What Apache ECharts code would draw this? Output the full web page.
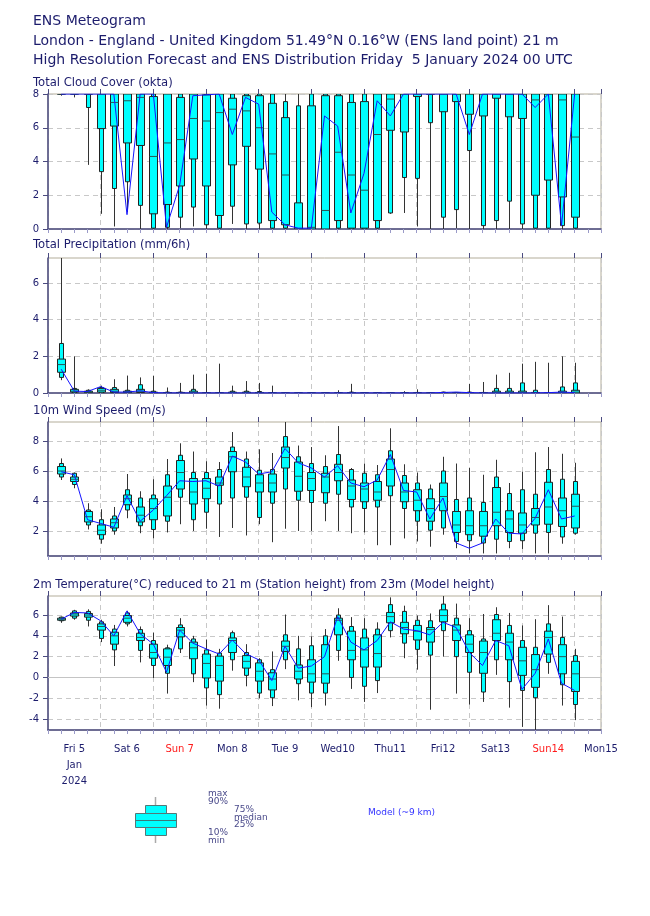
<!DOCTYPE html>
<html><head><meta charset="utf-8">
<script src="https://cdn.jsdelivr.net/npm/echarts@6/dist/echarts.min.js"></script>
<style>html,body{margin:0;padding:0;background:#fff}#c{width:650px;height:916px}</style>
</head><body><div id="c"></div>
<script>
// forecast steps (hours after Fri 5 Jan 2024 00 UTC)
const hours = [6,12,18,24,30,36,42,48,54,60,66,72,78,84,90,96,102,108,114,120,
               126,132,138,144,150,156,162,168,174,180,186,192,198,204,210,216,222,228,234,240];
const dayLabelHours = [12,36,60,84,108,132,156,180,204,228,252];
const dayLabels = ['Fri 5\nJan\n2024','Sat 6','Sun 7','Mon 8','Tue 9','Wed10','Thu11','Fri12','Sat13','Sun14','Mon15'];
const sundayLabels = ['Sun 7','Sun14'];

// [min, p10, p25, median, p75, p90, max]
const cloudBoxes = [
 [7.9,8,8,8,8,8,8],[7.8,8,8,8,8,8,8],[3.8,7.2,8,8,8,8,8],[0.9,3.4,5.95,8,8,8,8],
 [0.15,2.4,6.1,7.5,8,8,8],[1.0,2.8,5.1,7.6,8,8,8],[0,1.4,4.95,7.8,8,8,8],[0,0.05,0.9,4.3,7.85,8,8],
 [0,0.1,1.45,5.1,8,8,8],[0.05,0.7,2.55,5.3,7.8,8,8],[0.15,1.3,4.15,6.55,8,8,8],[0,0.25,2.55,6.4,7.95,8,8],
 [0,0.05,0.8,6.9,8,8,8],[0.3,1.35,3.8,7.1,7.75,8,8],[0,0.3,4.9,7.0,7.9,8,8],[0,0.35,3.55,6.0,7.9,8,8],
 [0,0.05,0.5,4.45,7.45,8,8],[0,0.05,0.25,3.2,6.6,7.55,8],[0,0,0,0,1.55,7.3,8],[0,0,0,0.1,7.3,8,8],
 [0,0,0,1.1,7.9,8,8],[0,0.05,0.5,4.55,7.9,8,8],[0,0,0.05,3.2,7.5,8,8],[0,0,0.05,2.3,7.55,8,8],
 [0,0.05,0.5,5.6,8,8,8],[0.9,0.95,5.85,7.7,8,8,8],[0.95,3.05,5.75,8,8,8,8],[0.15,3.0,7.85,8,8,8,8],
 [0,6.3,8,8,8,8,8],[0,0.7,6.95,8,8,8,8],[0.05,1.15,7.55,8,8,8,8],[0,4.65,6.8,8,8,8,8],
 [0,0.2,6.7,8,8,8,8],[0,0.5,7.75,8,8,8,8],[0,1.65,6.65,8,8,8,8],[0,0.3,6.55,8,8,8,8],
 [0,0.05,2.0,7.65,8,8,8],[0,0.05,2.9,8,8,8,8],[0,0.2,1.9,7.65,8,8,8],[0,0.05,0.7,5.45,8,8,8]
];
const cloudHres = [8,8,8,8,8,0.85,8,8,0.1,2.6,7.9,7.95,8,5.6,7.8,7.4,1.0,0.25,0.05,0.05,
                   6.7,6.1,0.95,3.3,7.6,6.7,8,8,8,8,8,5.6,8,8,8,8,7.2,8,0.2,8];

const precipBoxes = [
 [0.7,0.85,1.13,1.55,1.85,2.7,8.5],[0,0,0.05,0.1,0.2,0.25,2.0],[0,0,0.02,0.05,0.1,0.15,0.2],[0,0,0.05,0.15,0.25,0.3,0.4],
 [0,0,0.02,0.1,0.2,0.3,0.75],[0,0,0.02,0.05,0.1,0.15,0.95],[0,0,0.03,0.1,0.2,0.45,0.85],[0,0,0,0.02,0.05,0.1,0.93],
 [0,0,0,0,0.02,0.05,0.3],[0,0,0,0,0.03,0.05,0.55],[0,0,0,0.02,0.1,0.2,1.0],[0,0,0,0,0,0.02,1.05],
 [0,0,0,0,0,0.02,1.6],[0,0,0,0.02,0.05,0.1,0.4],[0,0,0,0.02,0.05,0.1,0.65],[0,0,0,0.01,0.03,0.08,0.55],
 [0,0,0,0,0,0.02,0.4],[0,0,0,0,0,0,0.02],[0,0,0,0,0,0,0],[0,0,0,0,0,0,0],
 [0,0,0,0,0,0,0],[0,0,0,0,0,0.02,0.15],[0,0,0,0,0.02,0.05,0.5],[0,0,0,0,0,0,0.02],
 [0,0,0,0,0,0,0.02],[0,0,0,0,0,0.01,0.05],[0,0,0,0,0,0.02,0.1],[0,0,0,0,0,0.03,0.2],
 [0,0,0,0,0,0.01,0.03],[0,0,0,0,0.02,0.05,0.07],[0,0,0,0,0.01,0.03,0.05],[0,0,0,0,0.02,0.05,0.5],
 [0,0,0,0,0.01,0.03,0.6],[0,0,0,0.02,0.1,0.25,1.0],[0,0,0,0.02,0.1,0.25,1.1],[0,0,0,0.02,0.1,0.55,1.6],
 [0,0,0,0,0.03,0.15,1.7],[0,0,0,0,0,0.02,1.65],[0,0,0,0.02,0.1,0.33,2.0],[0,0,0,0.05,0.15,0.55,1.65]
];
const precipHres = [1.3,0.1,0.08,0.35,0.05,0.05,0.12,0.02,0,0,0,0,0,0,0,0,0,0,0,0,
                    0,0,0,0,0,0,0,0,0,0.03,0.05,0.02,0,0,0,0,0,0.02,0.05,0.02];

const windBoxes = [
 [5.4,5.6,5.8,6.0,6.3,6.5,6.84],[4.85,5.1,5.3,5.45,5.6,5.85,5.9],[2.1,2.4,2.6,2.95,3.3,3.4,3.85],[1.15,1.45,1.75,2.05,2.4,2.75,3.45],
 [1.75,2.0,2.2,2.55,2.8,3.0,3.6],[2.85,3.4,3.75,4.15,4.4,4.75,5.8],[1.85,2.35,2.6,3.05,3.6,4.2,4.65],[1.5,2.1,2.75,3.5,4.15,4.4,5.45],
 [1.9,2.65,3.0,4.25,5.0,5.75,6.8],[2.45,4.25,4.8,5.9,6.7,7.05,7.85],[2.0,2.75,3.8,4.6,5.5,5.9,7.3],[2.15,3.25,4.15,4.85,5.5,5.9,6.65],
 [1.6,3.8,5.05,5.2,5.6,6.1,6.6],[2.2,4.2,5.95,6.95,7.3,7.6,8.6],[1.7,4.25,4.95,5.6,6.25,6.8,7.3],[2.45,2.9,4.6,5.2,5.75,6.05,7.45],
 [1.25,3.85,4.6,5.2,5.8,6.1,7.2],[2.15,4.8,6.2,6.9,7.6,8.3,9.4],[2.0,4.05,4.65,5.65,6.6,6.95,7.7],[2.0,3.9,4.7,5.5,5.9,6.5,7.6],
 [2.65,3.85,4.55,5.6,5.85,6.3,7.05],[2.0,4.45,5.35,5.9,6.45,7.1,9.0],[1.85,3.6,4.1,5.0,5.4,6.1,6.2],[1.9,3.5,3.95,4.8,5.2,5.85,6.5],
 [1.05,3.6,4.05,4.6,5.3,5.75,6.4],[1.05,4.35,5.0,6.1,6.8,7.35,8.85],[1.5,3.5,3.95,4.6,5.2,5.7,6.45],[1.3,2.65,3.35,4.05,4.75,5.2,5.9],
 [0.95,2.05,2.65,3.5,4.15,4.8,5.1],[1.75,2.2,3.35,4.3,5.2,6.0,6.95],[0.85,1.3,1.9,2.4,3.3,4.1,6.5],[0.5,1.35,1.75,2.35,3.35,4.2,6.2],
 [0.5,1.2,1.65,2.35,3.3,3.9,5.75],[0.5,1.45,2.35,3.25,4.9,5.6,6.75],[0.85,1.3,1.9,2.8,3.35,4.5,5.2],[0.8,1.35,1.85,2.4,3.2,4.75,5.95],
 [0.5,1.85,2.4,2.9,3.5,4.45,7.25],[0.5,1.9,2.45,3.6,5.25,6.1,7.6],[1.15,1.6,2.3,3.35,4.2,5.45,7.15],[1.75,1.85,2.2,3.65,4.45,5.3,6.55]
];
const windHres = [5.95,5.75,2.75,2.5,2.25,4.35,2.65,3.4,4.35,5.35,5.3,5.35,5.0,7.0,6.6,5.8,5.95,7.5,6.55,6.2,
                  5.6,6.35,5.2,4.95,5.4,7.1,4.7,4.6,2.8,4.2,1.2,0.85,1.2,2.8,1.85,1.8,2.85,4.75,2.8,3.0];

const tempBoxes = [
 [5.25,5.45,5.5,5.6,5.7,5.8,5.85],[5.55,5.7,5.9,6.1,6.2,6.4,6.5],[4.9,5.5,5.8,6.0,6.15,6.35,6.55],[3.4,3.75,4.55,4.9,5.15,5.35,5.55],
 [1.1,2.65,3.2,4.0,4.35,4.65,5.05],[4.9,5.15,5.3,5.7,5.95,6.2,6.4],[1.45,2.6,3.55,3.85,4.25,4.6,4.9],[-0.05,1.15,1.85,2.4,3.2,3.55,4.3],
 [-1.55,0.4,1.15,1.95,2.75,2.85,3.15],[2.35,2.75,3.9,4.55,4.8,5.05,5.7],[-0.45,0.35,1.8,2.85,3.4,3.7,4.0],[-2.7,-1.0,-0.05,1.35,2.25,2.65,3.65],
 [-3.0,-1.65,-0.35,1.15,2.05,2.35,2.75],[0.65,1.7,2.4,3.55,3.8,4.3,4.5],[-0.85,0.2,0.9,1.55,2.1,2.4,3.2],[-2.0,-1.5,-0.35,0.6,1.4,1.7,1.85],
 [-2.75,-1.95,-1.2,-0.15,0.45,0.75,2.5],[0.8,1.7,2.5,3.0,3.5,4.1,6.05],[-2.2,-0.6,-0.15,0.6,1.2,2.75,4.0],[-2.85,-1.5,-0.45,0.35,1.7,3.05,3.95],
 [-2.7,-1.5,-0.55,0.35,3.15,4.0,4.65],[1.6,2.6,4.1,5.5,5.7,6.0,6.65],[-1.1,0.0,1.7,2.6,4.45,4.9,5.8],[-2.35,-0.85,1.0,2.65,3.8,4.65,5.7],
 [-1.5,-0.3,1.0,2.3,4.1,4.65,5.3],[3.85,4.5,5.25,5.85,6.25,7.0,7.7],[1.85,3.3,4.2,4.8,5.3,6.35,6.9],[0.75,2.7,3.6,4.45,5.0,5.5,5.95],
 [-3.1,2.15,3.4,4.6,4.8,5.45,6.15],[2.0,4.5,5.35,5.95,6.5,7.05,7.85],[-1.55,2.0,3.55,4.55,5.05,5.7,7.1],[-2.6,0.5,2.4,3.2,4.1,4.5,5.7],
 [-2.35,-1.4,0.4,2.4,3.5,3.7,6.1],[0.25,1.7,3.55,4.25,5.55,6.05,6.75],[-2.9,-0.4,1.7,3.4,4.25,5.0,6.2],[-4.75,-1.25,0.2,1.6,2.9,3.55,5.0],
 [-5.1,-1.95,-0.95,0.75,2.2,2.9,5.6],[0.35,1.45,2.25,3.85,4.45,5.15,6.95],[-2.7,-0.7,0.35,2.0,3.15,3.85,5.85],[-4.1,-2.6,-1.35,0.35,1.55,2.1,2.75]
];
const tempHres = [5.6,6.25,6.2,5.45,4.0,6.4,4.2,3.2,0.5,4.55,3.3,2.75,2.25,3.6,2.3,1.7,-0.3,3.0,0.9,1.1,
                  2.0,5.85,3.4,2.65,3.55,5.35,4.65,4.5,4.1,5.3,4.8,2.4,1.15,3.55,3.05,-1.15,0.4,3.7,-0.55,-1.25];

const cloudTicks = [0,2,4,6,8];
const precipTicks = [0,2,4,6];
const windTicks = [2,4,6,8];
const tempTicks = [-4,-2,0,2,4,6];

const panelTitles = ['Total Cloud Cover (okta)','Total Precipitation (mm/6h)','10m Wind Speed (m/s)',
  '2m Temperature(°C) reduced to 21 m (Station height) from 23m (Model height)'];
const headerLines = ['ENS Meteogram',
  'London - England - United Kingdom 51.49°N 0.16°W (ENS land point) 21 m',
  'High Resolution Forecast and ENS Distribution Friday  5 January 2024 00 UTC'];

// ---- layout / style ----
const NAVY = '#1c1c6c';
const AXIS = '#4b4b80';
const FONT = 'DejaVu Sans';
const panels = [
  {top:94,  height:135, min:0,     max:8,    ticks:cloudTicks,  boxes:cloudBoxes,  hres:cloudHres,  titleY:83},
  {top:258, height:135, min:0,     max:7.36, ticks:precipTicks, boxes:precipBoxes, hres:precipHres, titleY:245},
  {top:422, height:134, min:0.33,  max:9.27, ticks:windTicks,   boxes:windBoxes,   hres:windHres,   titleY:411},
  {top:596, height:134, min:-5.05, max:7.83, ticks:tempTicks,   boxes:tempBoxes,   hres:tempHres,   titleY:585}
];

function renderBox(params, api) {
  const h = api.value(0);
  const ys = [1,2,3,4,5,6,7].map(i => api.coord([h, api.value(i)])[1]);
  const x = Math.round(api.coord([h, api.value(4)])[0]) + 0.5;
  const wn = 4, ww = 8;
  return {type:'group', children:[
    {type:'line', shape:{x1:x, y1:ys[6], x2:x, y2:ys[0]}, style:{stroke:'#333', lineWidth:1}},
    {type:'rect', shape:{x:x-wn/2, y:ys[5], width:wn, height:ys[1]-ys[5]}, style:{fill:'#00ffff', stroke:'#222', lineWidth:1}},
    {type:'rect', shape:{x:x-ww/2, y:ys[4], width:ww, height:ys[2]-ys[4]}, style:{fill:'#00ffff', stroke:'#222', lineWidth:1}},
    {type:'line', shape:{x1:x-ww/2, y1:ys[3], x2:x+ww/2, y2:ys[3]}, style:{stroke:'#2a5555', lineWidth:1}}
  ]};
}

const grid = [], xAxis = [], yAxis = [], series = [], graphic = [];
panels.forEach((p, i) => {
  grid.push({left:48, width:553, top:p.top, height:p.height, show:true, borderColor:'#b3ad9a', borderWidth:1, backgroundColor:'#fff'});
  const isLast = i === panels.length - 1;
  xAxis.push({type:'value', gridIndex:i, min:0, max:252, interval:6,
    axisLine:{show:true, onZero:false, lineStyle:{color:AXIS, width:1.5}},
    axisTick:{show:true, inside:false, length:4, lineStyle:{color:'#9a9ac8'}},
    splitLine:{show:false},
    axisLabel: isLast ? {show:true, customValues:dayLabelHours, showMaxLabel:true, margin:11,
      fontFamily:FONT, fontSize:10, color:NAVY, lineHeight:16,
      formatter:(v)=>{const k=dayLabelHours.indexOf(v); if(k<0) return ''; const s=dayLabels[k];
        return sundayLabels.indexOf(s)>=0 ? '{sun|'+s+'}' : s;},
      rich:{sun:{color:'#ff1a1a', fontFamily:FONT, fontSize:10}}} : {show:false}
  });
  xAxis.push({type:'value', gridIndex:i, min:0, max:252, interval:24,
    axisLine:{show:false, onZero:false},
    axisTick:{show:true, inside:false, length:5, lineStyle:{color:AXIS, width:1}},
    splitLine:{show:true, lineStyle:{color:'#c8c8c8', type:[5,4], width:1}},
    axisLabel:{show:false}
  });
  yAxis.push({type:'value', gridIndex:i, min:p.min, max:p.max,
    axisLine:{show:true, onZero:false, lineStyle:{color:AXIS, width:1.5}},
    axisTick:{show:true, inside:false, length:5, customValues:p.ticks, lineStyle:{color:AXIS}},
    axisLabel:{show:true, customValues:p.ticks, margin:9, fontFamily:FONT, fontSize:10, color:NAVY},
    splitLine:{show:true, lineStyle:{color:'#c8c8c8', type:[5,4], width:1}}
  });
  series.push({type:'custom', xAxisIndex:2*i, yAxisIndex:i, renderItem:renderBox, clip:true,
    encode:{x:0, y:[1,2,3,4,5,6,7]}, z:3,
    data: hours.map((h,k)=>[h].concat(p.boxes[k]))});
  const ls = {type:'line', xAxisIndex:2*i, yAxisIndex:i, showSymbol:false, symbol:'none', clip:true, z:4,
    lineStyle:{color:'#1414ff', width:1}, data: hours.map((h,k)=>[h, p.hres[k]])};
  if (isLast) ls.markLine = {silent:true, symbol:'none', label:{show:false},
    lineStyle:{color:'#c4c4c4', type:'solid', width:1}, data:[{yAxis:0}], z:1};
  series.push(ls);
  graphic.push({type:'text', x:33, y:p.titleY, style:{text:panelTitles[i], font:'11.6px "DejaVu Sans"', fill:NAVY, verticalAlign:'middle'}});
});

[21,41,60].forEach((y,k)=>graphic.push({type:'text', x:33, y:y,
  style:{text:headerLines[k], font:'14px "DejaVu Sans"', fill:NAVY, verticalAlign:'middle'}}));

// legend glyph
const LG = '#4a4a8a';
graphic.push(
  {type:'line', shape:{x1:155.5,y1:797,x2:155.5,y2:843}, style:{stroke:'#aaaaaa', lineWidth:1.5}},
  {type:'rect', shape:{x:145.5,y:805.5,width:21,height:30}, style:{fill:'#00ffff', stroke:'#557777', lineWidth:1}},
  {type:'rect', shape:{x:135.5,y:813.5,width:41,height:14}, style:{fill:'#00ffff', stroke:'#557777', lineWidth:1}},
  {type:'line', shape:{x1:135.5,y1:820.5,x2:176.5,y2:820.5}, style:{stroke:'#3a7a7a', lineWidth:1}}
);
[['max',208,794],['90%',208,802],['75%',234,810],['median',234,817.5],['25%',234,825],['10%',208,833],['min',208,841]]
  .forEach(t=>graphic.push({type:'text', x:t[1], y:t[2], style:{text:t[0], font:'9px "DejaVu Sans"', fill:LG, verticalAlign:'middle'}}));
graphic.push({type:'text', x:368, y:813, style:{text:'Model (~9 km)', font:'9px "DejaVu Sans"', fill:'#3333ff', verticalAlign:'middle'}});

const chart = echarts.init(document.getElementById('c'), null, {renderer:'canvas'});
chart.setOption({animation:false, backgroundColor:'#fff', grid, xAxis, yAxis, series, graphic});
</script></body></html>
